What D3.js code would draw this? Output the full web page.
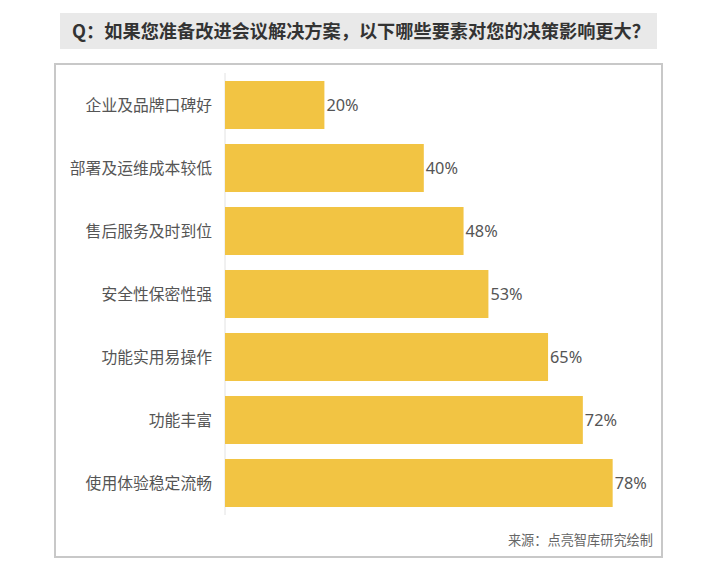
<!DOCTYPE html>
<html><head><meta charset="utf-8">
<script src="https://cdn.jsdelivr.net/npm/d3@7"></script>
<style>body{margin:0;background:#fff}svg{display:block}</style>
</head><body>
<svg id="c" width="720" height="573"></svg>
<script>
const title = "Q：如果您准备改进会议解决方案，以下哪些要素对您的决策影响更大？";
const categories = ["企业及品牌口碑好","部署及运维成本较低","售后服务及时到位","安全性保密性强","功能实用易操作","功能丰富","使用体验稳定流畅"];
const values = [20,40,48,53,65,72,78];
const source = "来源：点亮智库研究绘制";

const svg = d3.select("#c");
const cjk = "'Noto Sans CJK SC','Noto Sans',sans-serif";

// title box
svg.append("rect").attr("x",60).attr("y",13).attr("width",597).attr("height",36).attr("fill","#e9e9e9");
svg.append("text").attr("x",361).attr("y",38).attr("text-anchor","middle")
  .attr("font-family",cjk).attr("font-weight","bold").attr("font-size",18.2).attr("fill","#333")
  .text(title);

// frame
svg.append("rect").attr("x",55).attr("y",64).attr("width",607).attr("height",493)
  .attr("fill","#fff").attr("stroke","#c8c8c8").attr("stroke-width",2);

const x = d3.scaleLinear().domain([0,100]).range([225,722]);
const y = d3.scaleBand().domain(categories).range([73,515]).paddingInner(0.238).paddingOuter(0.127);

// axis line
svg.append("line").attr("x1",x(0)).attr("x2",x(0)).attr("y1",73).attr("y2",515)
  .attr("stroke","#e2e2e2").attr("stroke-width",1);

svg.selectAll("rect.bar").data(values).join("rect").attr("class","bar")
  .attr("x",x(0)).attr("y",(d,i)=>y(categories[i])).attr("width",d=>x(d)-x(0))
  .attr("height",y.bandwidth()).attr("fill","#F2C443");

svg.selectAll("text.cat").data(categories).join("text").attr("class","cat")
  .attr("x",212).attr("y",d=>y(d)+y.bandwidth()/2).attr("dy","0.36em").attr("text-anchor","end")
  .attr("font-family",cjk).attr("font-size",15.8).attr("fill","#555").text(d=>d);

svg.selectAll("text.val").data(values).join("text").attr("class","val")
  .attr("x",d=>x(d)+2).attr("y",(d,i)=>y(categories[i])+y.bandwidth()/2).attr("dy","0.36em")
  .attr("font-family","'Noto Sans',sans-serif").attr("font-size",16.3).attr("fill","#555").text(d=>d+"%");

svg.append("text").attr("x",653).attr("y",545).attr("text-anchor","end")
  .attr("font-family",cjk).attr("font-size",13.2).attr("fill","#666").text(source);
</script>
</body></html>
